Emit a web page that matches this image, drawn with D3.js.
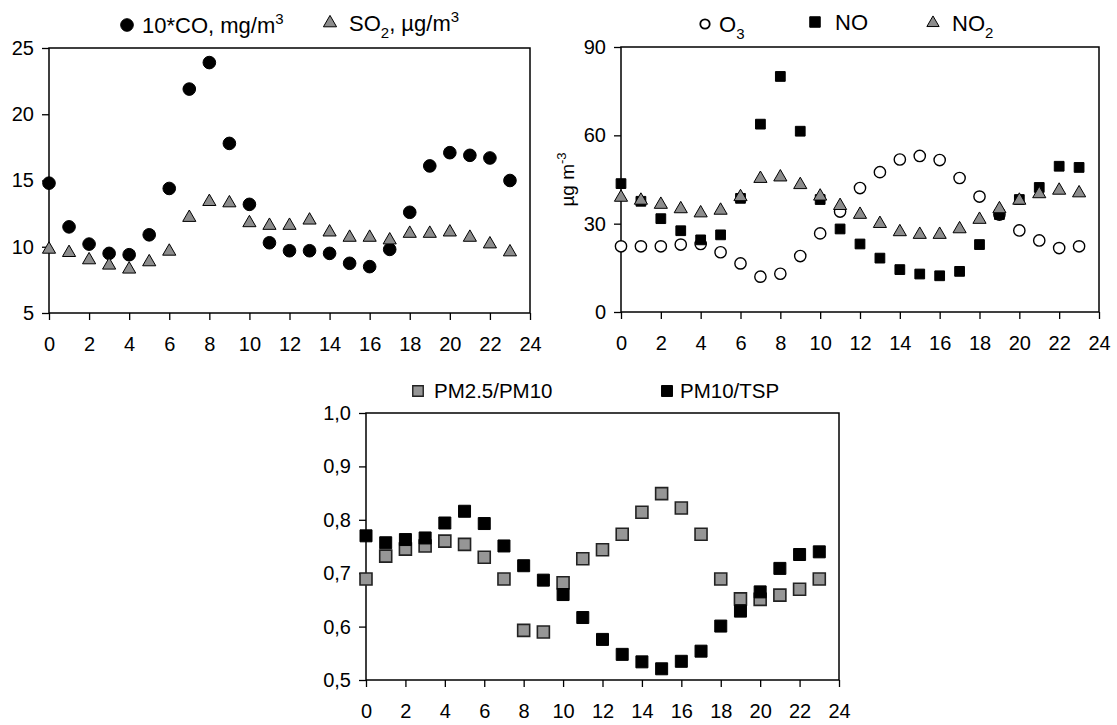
<!DOCTYPE html>
<html>
<head>
<meta charset="utf-8">
<script src="https://cdn.jsdelivr.net/npm/d3@7"></script>
<style>
  body { margin: 0; background: #fff; }
  svg { font-family: "Liberation Sans", Arial, sans-serif; }
</style>
</head>
<body>
<svg width="1117" height="725"></svg>
<script>
// giờ trong ngày
const hours = [0, 1, 2, 3, 4, 5, 6, 7, 8, 9, 10, 11, 12, 13, 14, 15, 16, 17, 18, 19, 20, 21, 22, 23];
const hourTicks = [0, 2, 4, 6, 8, 10, 12, 14, 16, 18, 20, 22, 24];

// panel 1
const co10 = [14.8, 11.5, 10.2, 9.5, 9.4, 10.9, 14.4, 21.9, 23.9, 17.8, 13.2, 10.3, 9.7, 9.7, 9.5, 8.75, 8.5, 9.8, 12.6, 16.1, 17.1, 16.9, 16.7, 15.0];
const so2 = [9.8, 9.55, 9.0, 8.6, 8.3, 8.85, 9.65, 12.2, 13.4, 13.3, 11.8, 11.6, 11.6, 12.0, 11.1, 10.7, 10.7, 10.5, 11.0, 11.0, 11.1, 10.7, 10.2, 9.6];
const ticks1 = [5, 10, 15, 20, 25];

// panel 2
const o3 = [22.3, 22.3, 22.3, 22.9, 23.1, 20.3, 16.5, 12.0, 13.0, 19.0, 26.7, 34.1, 42.1, 47.5, 51.8, 53.0, 51.6, 45.5, 39.2, 33.1, 27.7, 24.3, 21.7, 22.3];
const no = [43.6, 37.6, 31.7, 27.6, 24.5, 26.2, 38.6, 63.8, 80.0, 61.4, 38.2, 28.2, 23.1, 18.3, 14.4, 12.9, 12.3, 13.8, 22.9, 33.1, 38.2, 42.3, 49.5, 49.1];
const no2 = [38.9, 37.9, 36.5, 35.0, 33.6, 34.5, 39.1, 45.3, 45.8, 43.2, 39.3, 36.1, 33.1, 30.0, 27.2, 26.3, 26.3, 28.2, 31.4, 35.0, 37.9, 40.1, 41.3, 40.4];
const ticks2 = [0, 30, 60, 90];

// panel 3
const pm25pm10 = [0.689, 0.732, 0.745, 0.751, 0.760, 0.754, 0.730, 0.689, 0.593, 0.590, 0.682, 0.727, 0.744, 0.773, 0.814, 0.849, 0.822, 0.773, 0.689, 0.652, 0.651, 0.659, 0.670, 0.689];
const pm10tsp = [0.770, 0.757, 0.763, 0.766, 0.794, 0.816, 0.793, 0.751, 0.714, 0.687, 0.660, 0.617, 0.576, 0.548, 0.534, 0.521, 0.535, 0.554, 0.601, 0.629, 0.665, 0.709, 0.735, 0.740];
const ticks3 = [0.5, 0.6, 0.7, 0.8, 0.9, 1.0];

const svg = d3.select("svg");
const GRAY = "#8c8c8c";

function panel(box, yDomain, yTicks, fmt) {
    const x = d3.scaleLinear().domain([0, 24]).range([box.left, box.right]);
    const y = d3.scaleLinear().domain(yDomain).range([box.bottom, box.top]);
    const g = svg.append("g");

    g.append("g")
        .attr("transform", `translate(0,${box.bottom})`)
        .call(d3.axisBottom(x).tickValues(hourTicks).tickSize(7).tickPadding(17).tickFormat(d3.format("d")))
        .call(a => a.select(".domain").remove());
    g.append("g")
        .attr("transform", `translate(${box.left},0)`)
        .call(d3.axisLeft(y).tickValues(yTicks).tickSize(7).tickPadding(8).tickFormat(fmt))
        .call(a => a.select(".domain").remove());
    g.selectAll(".tick text").style("font-size", "20px").attr("fill", "#000")
        .style("font-family", "'Liberation Sans', Arial, sans-serif");
    g.selectAll(".tick line").attr("stroke", "#000").attr("stroke-width", 1.3);

    g.append("rect")
        .attr("x", box.left).attr("y", box.top)
        .attr("width", box.right - box.left).attr("height", box.bottom - box.top)
        .attr("fill", "none").attr("stroke", "#000").attr("stroke-width", 1.5);
    return { g, x, y };
}

function markers(p, values, shape, size, fill, stroke, sw) {
    p.g.append("g").selectAll("path")
        .data(values)
        .enter().append("path")
        .attr("d", d3.symbol().type(shape).size(size))
        .attr("transform", (d, i) => `translate(${p.x(hours[i])},${p.y(d)})`)
        .attr("fill", fill)
        .attr("stroke", stroke)
        .attr("stroke-width", sw);
}

function legendItem(cx, cy, shape, size, fill, stroke, sw, tx, fs, parts) {
    svg.append("path")
        .attr("d", d3.symbol().type(shape).size(size))
        .attr("transform", `translate(${cx},${cy})`)
        .attr("fill", fill).attr("stroke", stroke).attr("stroke-width", sw);
    const t = svg.append("text")
        .attr("x", tx).attr("y", cy + fs * 0.36)
        .style("font-size", fs + "px");
    parts.forEach(pt => {
        if (pt.sup) t.append("tspan").attr("dy", -9).style("font-size", "15px").text(pt.sup);
        else if (pt.sub) t.append("tspan").attr("dy", 7).style("font-size", "15px").text(pt.sub);
        else t.append("tspan").attr("dy", pt.back || 0).text(pt.t);
    });
}

// ----- panel 1: CO & SO2
const p1 = panel({ left: 49, right: 530, top: 48, bottom: 313 }, [5, 25], ticks1, d3.format("d"));
markers(p1, co10, d3.symbolCircle, 125, "#000", "#000", 1);
markers(p1, so2, d3.symbolTriangle, 75, GRAY, "#000", 1);

legendItem(127, 25, d3.symbolCircle, 125, "#000", "#000", 1, 142, 22,
    [{ t: "10*CO, mg/m" }, { sup: "3" }]);
legendItem(330, 23, d3.symbolTriangle, 75, GRAY, "#000", 1, 349, 22,
    [{ t: "SO" }, { sub: "2" }, { t: ", µg/m", back: -7 }, { sup: "3" }]);

// ----- panel 2: O3, NO, NO2
const p2 = panel({ left: 621, right: 1099, top: 47, bottom: 312 }, [0, 90], ticks2, d3.format("d"));
markers(p2, o3, d3.symbolCircle, 100, "#fff", "#000", 1.4);
markers(p2, no, d3.symbolSquare, 95, "#000", "#000", 1);
markers(p2, no2, d3.symbolTriangle, 75, GRAY, "#000", 1);

legendItem(705, 24, d3.symbolCircle, 70, "#fff", "#000", 1.8, 719, 22,
    [{ t: "O" }, { sub: "3" }]);
legendItem(815, 22, d3.symbolSquare, 110, "#000", "#000", 1, 835, 22,
    [{ t: "NO" }]);
legendItem(933, 23, d3.symbolTriangle, 65, GRAY, "#000", 1, 952, 22,
    [{ t: "NO" }, { sub: "2" }]);

svg.append("text")
    .attr("transform", `translate(574,${(47 + 312) / 2}) rotate(-90)`)
    .attr("text-anchor", "middle")
    .style("font-size", "19px")
    .call(t => {
        t.append("tspan").text("µg m");
        t.append("tspan").attr("dy", -8).style("font-size", "13px").text("-3");
    });

// ----- panel 3: tỷ lệ bụi
const commaFmt = d => d.toFixed(1).replace(".", ",");
const p3 = panel({ left: 366, right: 839, top: 413, bottom: 680 }, [0.5, 1.0], ticks3, commaFmt);
markers(p3, pm25pm10, d3.symbolSquare, 144, "#969696", "#222", 1.6);
markers(p3, pm10tsp, d3.symbolSquare, 144, "#000", "#000", 1);

legendItem(418, 391, d3.symbolSquare, 110, "#969696", "#222", 1.4, 434, 20.5,
    [{ t: "PM2.5/PM10" }]);
legendItem(667, 391, d3.symbolSquare, 120, "#000", "#000", 1, 680, 20.5,
    [{ t: "PM10/TSP" }]);
</script>
</body>
</html>
